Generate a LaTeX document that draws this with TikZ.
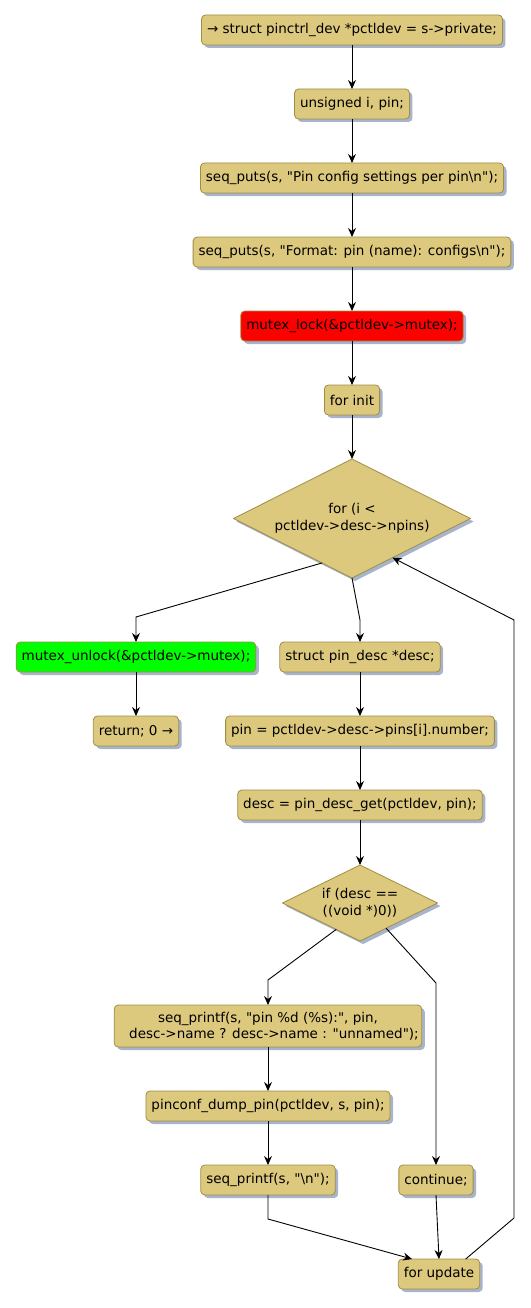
\documentclass[tikz,border=0pt]{standalone}
\usepackage{fontspec}
\setmainfont{DejaVu Sans}[Ligatures=TeXOff]
\usepackage{xcolor}
\usetikzlibrary{positioning,arrows.meta,shapes.geometric,shadows}
\definecolor{actfill}{HTML}{DDC97E}
\definecolor{actline}{HTML}{A08D45}
\definecolor{actshade}{HTML}{A7B4CB}
\definecolor{lockred}{HTML}{FF0000}
\definecolor{unlockgreen}{HTML}{00FF00}

\begin{document}
\begin{tikzpicture}[
  x=1pt,y=1pt,
  font=\fontsize{13.5}{16.5}\selectfont,
  node distance=44pt,
  stmt/.style={draw=actline,fill=actfill,rounded corners=4pt,align=center,
               inner xsep=5.5pt,inner ysep=3pt,minimum height=30pt,line width=0.8pt,
               outer sep=0pt,
               drop shadow={shadow xshift=3pt,shadow yshift=-3pt,fill=actshade,opacity=1}},
  cond/.style={stmt,diamond,aspect=2,rounded corners=0pt,inner sep=0pt},
  flow/.style={-{Stealth[length=9pt,width=8pt,inset=3pt]},black,line width=0.9pt}
]
\useasboundingbox (0,0) rectangle (530,-1308);

\node[stmt] (entry) at (352,-30) {→ struct pinctrl\_dev *pctldev = s->private;};
\node[stmt,below=of entry] (decl) {unsigned i, pin;};
\node[stmt,below=of decl] (puts1) {seq\_puts(s, "Pin config settings per pin\textbackslash n");};
\node[stmt,below=of puts1] (puts2) {seq\_puts(s, "Format: pin (name): configs\textbackslash n");};
\node[stmt,fill=lockred,below=of puts2] (lock) {mutex\_lock(\&pctldev->mutex);};
\node[stmt,below=of lock] (finit) {for init};
\node[cond,below=of finit,minimum width=237pt,minimum height=119pt] (loop)
  {for (i <\\ pctldev->desc->npins)};

% exit branch
\node[stmt,fill=unlockgreen] (unlock) at (136,-657) {mutex\_unlock(\&pctldev->mutex);};
\node[stmt,below=of unlock] (ret) {return; 0 →};

% loop body
\node[stmt] (pdesc) at (360,-657) {struct pin\_desc *desc;};
\node[stmt,below=of pdesc] (pinno) {pin = pctldev->desc->pins[i].number;};
\node[stmt,below=of pinno] (getdesc) {desc = pin\_desc\_get(pctldev, pin);};
\node[cond,below=45pt of getdesc,minimum width=155pt,minimum height=76pt] (ifnull)
  {if (desc ==\\ ((void *)0))};

\node[stmt,minimum height=42pt,inner xsep=3pt] (printf) at (268,-1026)
  {seq\_printf(s, "pin \%d (\%s):", pin,\\ \hspace*{12pt}desc->name ? desc->name : "unnamed");};
\node[stmt,below=of printf] (dump) {pinconf\_dump\_pin(pctldev, s, pin);};
\node[stmt,below=of dump] (newline) {seq\_printf(s, "\textbackslash n");};
\node[stmt] (cont) at (436,-1180) {continue;};
\node[stmt] (fupd) at (439,-1274) {for update};

\coordinate (backlow) at (514,-1218);
\coordinate (backhigh) at (514,-620);

\draw[flow] (entry) -- (decl);
\draw[flow] (decl) -- (puts1);
\draw[flow] (puts1) -- (puts2);
\draw[flow] (puts2) -- (lock);
\draw[flow] (lock) -- (finit);
\draw[flow] (finit) -- (loop);
\draw[flow] (loop.-124) -- ([yshift=25pt]unlock.north) -- (unlock.north);
\draw[flow] (unlock) -- (ret);
\draw[flow] (loop.south) -- ([yshift=22pt]pdesc.north) -- (pdesc.north);
\draw[flow] (pdesc) -- (pinno);
\draw[flow] (pinno) -- (getdesc);
\draw[flow] (getdesc) -- (ifnull);
\draw[flow] (ifnull.-132) -- ([yshift=25pt]printf.north) -- (printf.north);
\draw[flow] (ifnull.-44) -- ([yshift=182pt]cont.north) -- (cont.north);
\draw[flow] (printf) -- (dump);
\draw[flow] (dump) -- (newline);
\draw[flow] (newline.south) -- ([yshift=-24pt]newline.south) -- ([xshift=-27pt]fupd.north);
\draw[flow] (cont.south) -- (fupd.north);
\draw[flow] ([xshift=-14pt]fupd.north east) -- (backlow) -- (backhigh) -- (loop.-44);
\end{tikzpicture}
\end{document}
